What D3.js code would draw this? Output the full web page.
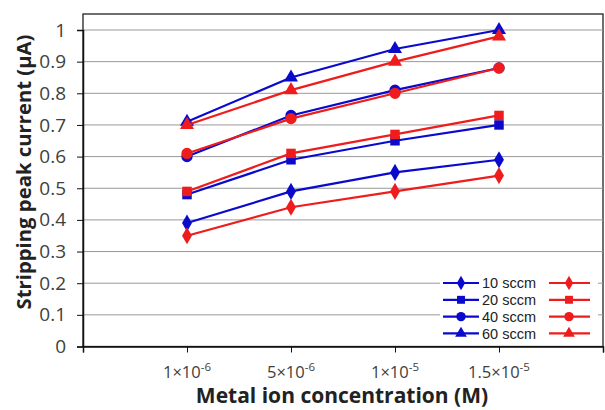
<!DOCTYPE html>
<html><head><meta charset="utf-8">
<script src="https://cdn.jsdelivr.net/npm/d3@7"></script>
<style>body{margin:0;background:#fff;}svg{display:block;font-family:"Open Sans",sans-serif;}</style>
</head><body><svg id="c" width="605" height="410"></svg>
<script>
const categories = ["1×10", "5×10", "1×10", "1.5×10"];
const exponents = ["-6", "-6", "-5", "-5"];
const seriesNames = ["10 sccm", "20 sccm", "40 sccm", "60 sccm"];
const markers = ["diamond", "square", "circle", "triangle"];
const blueValues = [
  [0.39, 0.49, 0.55, 0.59],
  [0.48, 0.59, 0.65, 0.70],
  [0.60, 0.73, 0.81, 0.88],
  [0.71, 0.85, 0.94, 1.00]
];
const redValues = [
  [0.35, 0.44, 0.49, 0.54],
  [0.49, 0.61, 0.67, 0.73],
  [0.61, 0.72, 0.80, 0.88],
  [0.70, 0.81, 0.90, 0.98]
];
const yTicks = [0, 0.1, 0.2, 0.3, 0.4, 0.5, 0.6, 0.7, 0.8, 0.9, 1];

const BLUE = "#0a0acc", RED = "#ee1c1c";
const FONT = "'Open Sans',sans-serif";
const svg = d3.select("#c");
const L = 83, R = 603, T = 14, B = 346.5, YTOP = 30;
const x = d3.scaleLinear().domain([0, categories.length + 1]).range([L, R]);
const y = d3.scaleLinear().domain([0, 1]).range([B, YTOP]);

// plot border
svg.append("rect").attr("x", L).attr("y", T).attr("width", R - L).attr("height", B - T)
  .attr("fill", "none").attr("stroke", "#222").attr("stroke-width", 1.3);

// gridlines
svg.append("g").selectAll("line").data(yTicks.filter(d => d > 0)).join("line")
  .attr("x1", L).attr("x2", R).attr("y1", d => y(d)).attr("y2", d => y(d))
  .attr("stroke", "#999").attr("stroke-width", 1);

// y axis
const yAxis = d3.axisLeft(y).tickValues(yTicks).tickSize(6).tickPadding(11).tickFormat(d3.format("~g"));
const gy = svg.append("g").attr("transform", `translate(${L},0)`).call(yAxis);
gy.select(".domain").attr("stroke", "#111").attr("stroke-width", 1.5);
gy.selectAll(".tick line").attr("stroke", "#111");
gy.selectAll("text").attr("font-size", 19).attr("fill", "#404040").attr("font-family", FONT);

// x axis
const xAxis = d3.axisBottom(x).tickValues(d3.range(0, categories.length + 2)).tickSize(6).tickFormat("");
const gx = svg.append("g").attr("transform", `translate(0,${B})`).call(xAxis);
gx.select(".domain").attr("stroke", "#111").attr("stroke-width", 1.5);
gx.selectAll(".tick line").attr("stroke", "#111");

const xl = svg.append("g").selectAll("text").data(categories).join("text")
  .attr("x", (d, i) => x(i + 1)).attr("y", 378).attr("text-anchor", "middle")
  .attr("font-size", 16.5).attr("fill", "#404040");
xl.append("tspan").text(d => d);
xl.append("tspan").attr("dy", -7).attr("font-size", 11.5).text((d, i) => exponents[i]);

// axis titles
svg.append("text").attr("x", 342).attr("y", 403).attr("text-anchor", "middle")
  .attr("font-size", 21).attr("font-weight", "bold").attr("fill", "#222")
  .text("Metal ion concentration (M)");
svg.append("text").attr("transform", "translate(31,172) rotate(-90)").attr("text-anchor", "middle")
  .attr("font-size", 20.3).attr("font-weight", "bold").attr("fill", "#222")
  .text("Stripping peak current (µA)");

const symType = {diamond: d3.symbolDiamond, square: d3.symbolSquare, circle: d3.symbolCircle, triangle: d3.symbolTriangle};
const symSize = {diamond: 85, square: 90, circle: 100, triangle: 85};

function drawSeries(vals, color, mk) {
  const line = d3.line().x((d, i) => x(i + 1)).y(d => y(d));
  svg.append("path").datum(vals).attr("d", line).attr("fill", "none")
    .attr("stroke", color).attr("stroke-width", 2.2);
  svg.append("g").selectAll("path").data(vals).join("path")
    .attr("transform", (d, i) => `translate(${x(i + 1)},${y(d)})`)
    .attr("d", d3.symbol().type(symType[mk]).size(symSize[mk]))
    .attr("fill", color);
}
blueValues.forEach((v, k) => drawSeries(v, BLUE, markers[k]));
redValues.forEach((v, k) => drawSeries(v, RED, markers[k]));

// legend
const lg = svg.append("g");
lg.append("rect").attr("x", 440).attr("y", 273).attr("width", 158).attr("height", 70).attr("fill", "#fff");
seriesNames.forEach((name, k) => {
  const yy = 283 + k * 16.8;
  lg.append("line").attr("x1", 443).attr("x2", 479).attr("y1", yy).attr("y2", yy).attr("stroke", BLUE).attr("stroke-width", 2.2);
  lg.append("path").attr("transform", `translate(461,${yy})`).attr("d", d3.symbol().type(symType[markers[k]]).size(symSize[markers[k]] * 0.7)).attr("fill", BLUE);
  lg.append("text").attr("x", 482).attr("y", yy + 5.2).attr("font-size", 14.5)
    .attr("font-family", "'Liberation Sans',Arial,sans-serif").attr("fill", "#222").text(name);
  lg.append("line").attr("x1", 549).attr("x2", 590).attr("y1", yy).attr("y2", yy).attr("stroke", RED).attr("stroke-width", 2.2);
  lg.append("path").attr("transform", `translate(569,${yy})`).attr("d", d3.symbol().type(symType[markers[k]]).size(symSize[markers[k]] * 0.7)).attr("fill", RED);
});
</script></body></html>
